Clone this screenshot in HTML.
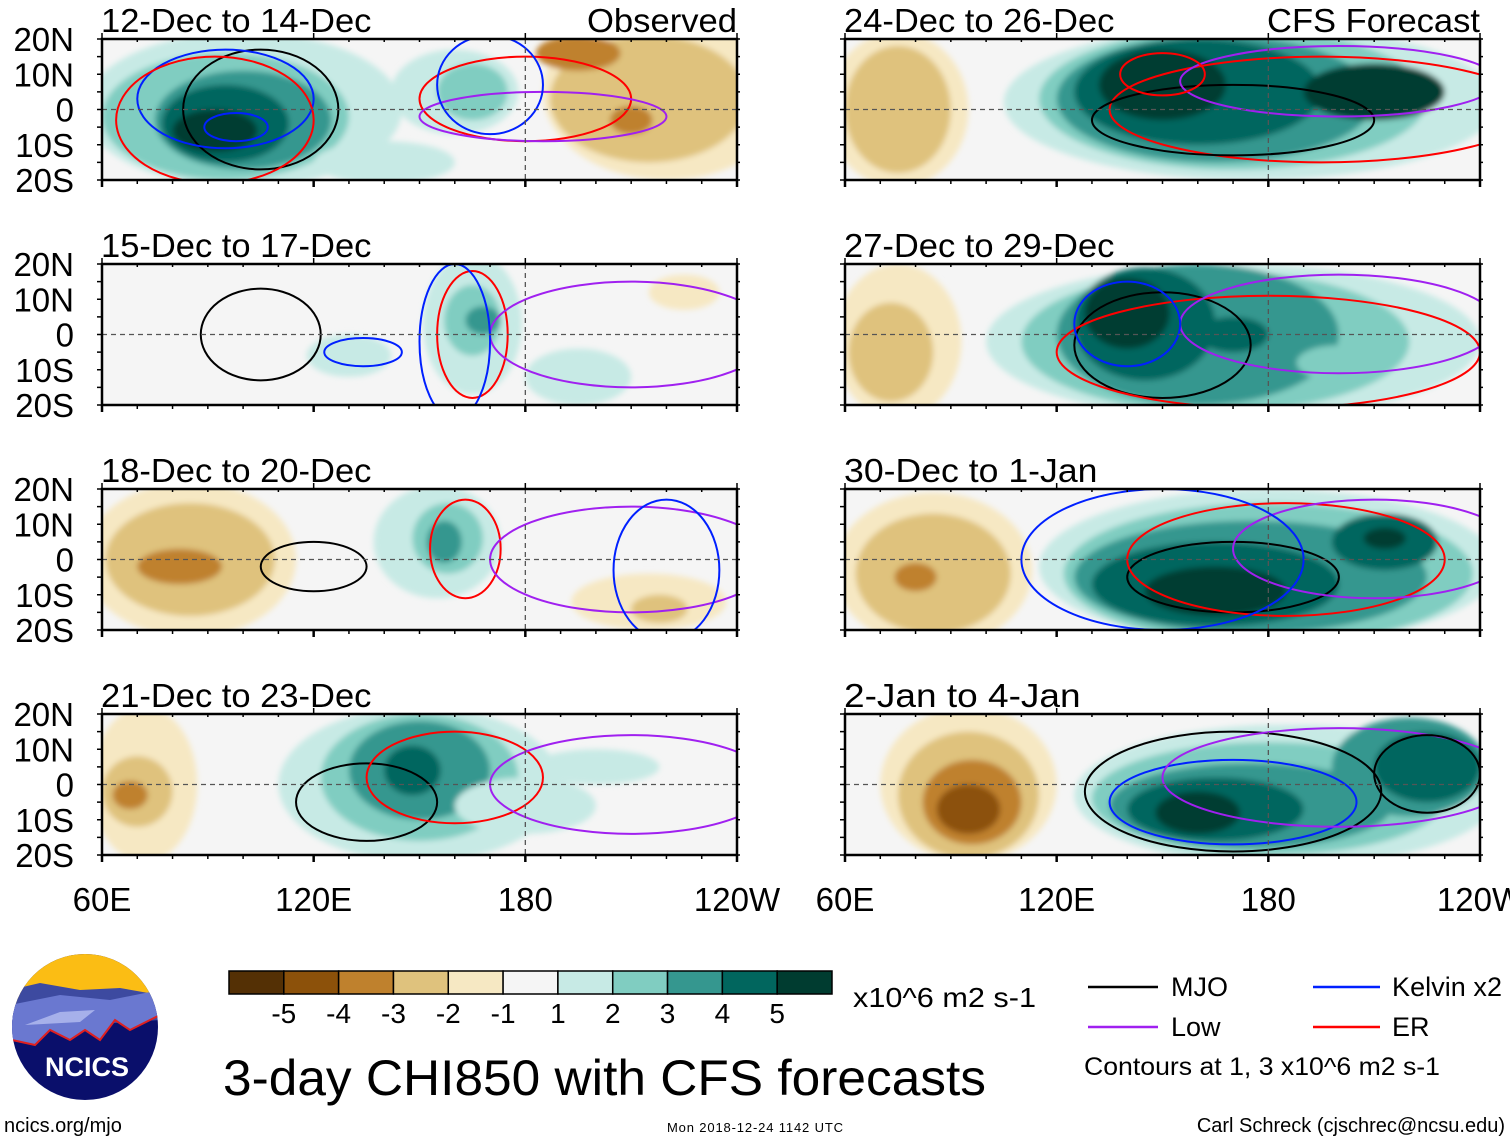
<!DOCTYPE html>
<html><head><meta charset="utf-8">
<style>
body{margin:0;background:#fff;width:1510px;height:1142px;overflow:hidden;font-family:"Liberation Sans",sans-serif;}
svg text{font-family:"Liberation Sans",sans-serif;}
</style></head>
<body>
<svg id="fig" width="1510" height="1142" viewBox="0 0 1510 1142" xmlns="http://www.w3.org/2000/svg">
<defs><filter id="bl" x="-10%" y="-10%" width="120%" height="120%"><feGaussianBlur stdDeviation="3"/></filter></defs>
<g id="panels"></g>
<g>
<clipPath id="lc"><circle cx="85" cy="1027" r="73"/></clipPath>
<g clip-path="url(#lc)">
<rect x="10" y="950" width="150" height="160" fill="#0a0f6b"/>
<rect x="10" y="950" width="150" height="55" fill="#fbbd14"/>
<path d="M10 990 L40 983 L80 990 L120 988 L160 995 L160 1020 L10 1030Z" fill="#3d4aa0"/>
<path d="M10 1005 L60 995 L110 1000 L160 990 L160 1015 L130 1030 L115 1020 L100 1040 L85 1030 L70 1040 L50 1030 L35 1045 L10 1040Z" fill="#6a78d0"/>
<path d="M25 1025 L60 1012 L95 1010 L80 1022Z" fill="#a6b0ea"/>
<path d="M12 1040 L35 1045 L50 1030 L70 1040 L85 1030 L100 1040 L115 1020 L130 1030 L158 1016" fill="none" stroke="#e02020" stroke-width="2"/>
</g>
<text x="87" y="1076" font-size="27" font-weight="bold" fill="#fff" text-anchor="middle">NCICS</text>
</g>
<text x="4" y="1132" font-size="20">ncics.org/mjo</text>
<g id="cbar"></g>
<text x="853" y="1007" font-size="28" textLength="183" lengthAdjust="spacingAndGlyphs">x10^6 m2 s-1</text>
<text x="223" y="1095" font-size="50" textLength="763" lengthAdjust="spacingAndGlyphs">3-day CHI850 with CFS forecasts</text>
<text x="667" y="1132" font-size="13" textLength="176">Mon 2018-12-24 1142 UTC</text>
<text x="1505" y="1132" font-size="20" text-anchor="end">Carl Schreck (cjschrec@ncsu.edu)</text>
<g>
<line x1="1088" y1="987" x2="1158" y2="987" stroke="#000" stroke-width="2.5"/>
<text x="1171" y="996" font-size="27">MJO</text>
<line x1="1313" y1="987" x2="1380" y2="987" stroke="#0020ff" stroke-width="2.5"/>
<text x="1392" y="996" font-size="27" textLength="110">Kelvin x2</text>
<line x1="1088" y1="1027" x2="1158" y2="1027" stroke="#a020f0" stroke-width="2.5"/>
<text x="1171" y="1036" font-size="27">Low</text>
<line x1="1313" y1="1027" x2="1380" y2="1027" stroke="#ff0000" stroke-width="2.5"/>
<text x="1392" y="1036" font-size="27">ER</text>
<text x="1084" y="1075" font-size="25" textLength="356" lengthAdjust="spacingAndGlyphs">Contours at 1, 3 x10^6 m2 s-1</text>
</g>
</svg>
<script>
const levelColors = {'-5':'#543005','-4':'#8c510a','-3':'#bf812d','-2':'#dfc27d','-1':'#f6e8c3','1':'#c7eae5','2':'#80cdc1','3':'#35978f','4':'#01665e','5':'#003c30'};
const cbarColors = ['#543005','#8c510a','#bf812d','#dfc27d','#f6e8c3','#f5f5f5','#c7eae5','#80cdc1','#35978f','#01665e','#003c30'];
const cbarLabels = ['-5','-4','-3','-2','-1','1','2','3','4','5'];
const latLabels = ['20N','10N','0','10S','20S'];
const lonLabels = ['60E','120E','180','120W'];
const panelTitles = ['12-Dec to 14-Dec','24-Dec to 26-Dec','15-Dec to 17-Dec','27-Dec to 29-Dec','18-Dec to 20-Dec','30-Dec to 1-Jan','21-Dec to 23-Dec','2-Jan to 4-Jan'];
const blobs0 = [[100,0,45,22,1],[95,-2,35,18,2],[100,-3,25,14,3],[95,-4,18,11,4],[92,-6,12,6,5],[160,5,18,12,1],[165,5,10,8,2],[220,5,35,25,-1],[215,3,28,18,-2],[210,-3,6,4,-3],[195,16,12,5,-3],[140,-15,20,6,1]];
const blobs1 = [[75,0,20,22,-1],[75,0,15,18,-2],[175,2,70,22,1],[170,3,55,20,2],[165,3,45,18,3],[160,5,35,15,4],[150,7,18,10,5],[210,5,20,8,5]];
const blobs2 = [[165,3,14,20,1],[165,4,8,10,2],[168,4,5,4,3],[130,-6,12,6,1],[195,-12,15,8,1],[225,12,10,5,-1]];
const blobs3 = [[75,-2,18,22,-1],[73,-5,12,14,-2],[170,-2,70,22,1],[165,-2,55,20,2],[160,0,40,20,3],[145,3,20,16,4],[140,6,12,10,5],[170,0,10,5,4],[200,-8,12,5,2]];
const blobs4 = [[85,0,30,22,-1],[85,0,24,16,-2],[82,-2,12,5,-3],[155,5,18,16,1],[158,6,10,10,2],[157,5,5,6,3],[215,-12,22,8,-1],[218,-14,8,4,-2]];
const blobs5 = [[85,-3,28,22,-1],[85,-4,22,17,-2],[80,-5,6,4,-3],[180,-2,65,22,1],[180,-4,58,20,2],[175,-5,50,16,3],[165,-7,35,12,4],[165,-9,20,7,5],[213,5,15,8,4],[213,6,6,3,5]];
const blobs6 = [[72,0,15,22,-1],[70,-2,10,10,-2],[68,-3,5,4,-3],[150,0,40,22,1],[150,2,28,18,2],[150,4,20,14,3],[148,4,8,7,4],[180,-6,20,8,1],[200,5,18,5,1]];
const blobs7 = [[95,0,25,22,-1],[95,-3,20,18,-2],[96,-5,14,12,-3],[95,-7,9,7,-4],[185,-3,60,20,1],[180,-4,50,16,2],[175,-6,40,12,3],[165,-7,25,9,4],[160,-8,12,6,5],[220,5,22,14,3],[225,5,15,10,4]];
const blobSets = [blobs0,blobs1,blobs2,blobs3,blobs4,blobs5,blobs6,blobs7];
const cont0 = [[105,0,22,17,'#000'],[95,3,25,14,'#0020ff'],[98,-5,9,4,'#0020ff'],[92,-3,28,18,'#ff0000'],[180,3,30,12,'#ff0000'],[185,-2,35,7,'#a020f0'],[170,7,15,14,'#0020ff']];
const cont1 = [[195,0,60,15,'#ff0000'],[170,-3,40,10,'#000'],[200,8,45,10,'#a020f0'],[150,10,12,6,'#ff0000']];
const cont2 = [[105,0,17,13,'#000'],[134,-5,11,4,'#0020ff'],[165,0,10,18,'#ff0000'],[210,0,40,15,'#a020f0'],[160,-2,10,22,'#0020ff']];
const cont3 = [[150,-3,25,15,'#000'],[180,-5,60,16,'#ff0000'],[200,3,45,14,'#a020f0'],[140,3,15,12,'#0020ff']];
const cont4 = [[120,-2,15,7,'#000'],[163,3,10,14,'#ff0000'],[210,0,40,15,'#a020f0'],[220,-3,15,20,'#0020ff']];
const cont5 = [[170,-5,30,10,'#000'],[185,0,45,16,'#ff0000'],[210,3,40,14,'#a020f0'],[150,0,40,20,'#0020ff']];
const cont6 = [[135,-5,20,11,'#000'],[160,2,25,13,'#ff0000'],[210,0,40,14,'#a020f0']];
const cont7 = [[170,-5,35,12,'#0020ff'],[170,-2,42,17,'#000'],[200,2,50,14,'#a020f0'],[225,3,15,11,'#000']];
const contSets = [cont0,cont1,cont2,cont3,cont4,cont5,cont6,cont7];

const NS='http://www.w3.org/2000/svg';
function mk(tag,attrs,parent){const e=document.createElementNS(NS,tag);for(const k in attrs)e.setAttribute(k,attrs[k]);parent.appendChild(e);return e;}
const panelX=[102,845], panelY=[39,264,489,714], PW=635, PH=141;
const root=document.getElementById('panels');
for(let i=0;i<8;i++){
  const col=i%2,row=Math.floor(i/2);
  const x0=panelX[col],y0=panelY[row];
  const xs=lon=>x0+(lon-60)/180*PW;
  const ys=lat=>y0+(20-lat)/40*PH;
  const g=mk('g',{},root);
  
  
  const cid='clip'+i;
  const cp=mk('clipPath',{id:cid},g);mk('rect',{x:x0,y:y0,width:PW,height:PH},cp);
  const bg=mk('rect',{x:x0,y:y0,width:PW,height:PH,fill:'#f5f5f5'},g);
  
  
  const sg=mk('g',{'clip-path':'url(#'+cid+')'},g);
  const fg=mk('g',{filter:'url(#bl)'},sg);
  blobSets[i].forEach(b=>{
    const e=mk('ellipse',{cx:xs(b[0]),cy:ys(b[1]),rx:b[2]/180*PW,ry:b[3]/40*PH,fill:levelColors[String(b[4])]},fg);
    
    
  });
  contSets[i].forEach(c=>{
    const e=mk('ellipse',{cx:xs(c[0]),cy:ys(c[1]),rx:c[2]/180*PW,ry:c[3]/40*PH,fill:'none',stroke:c[4],'stroke-width':2},sg);
    
    
  });
  const eq=mk('line',{x1:x0,y1:ys(0),x2:x0+PW,y2:ys(0),stroke:'#555','stroke-dasharray':'5,4','stroke-width':1.3},g);
  
  
  const dl=mk('line',{x1:xs(180),y1:y0,x2:xs(180),y2:y0+PH,stroke:'#555','stroke-dasharray':'5,4','stroke-width':1.3},g);
  
  
  const fr=mk('rect',{x:x0,y:y0,width:PW,height:PH,fill:'none',stroke:'#000','stroke-width':2.5},g);
  
  
  for(let lon=60;lon<=240;lon+=10){const big=(lon%60===0);
    mk('line',{x1:xs(lon),y1:y0+PH,x2:xs(lon),y2:y0+PH+(big?7:4),stroke:'#000','stroke-width':big?2.5:1.5},g);
    mk('line',{x1:xs(lon),y1:y0,x2:xs(lon),y2:y0+(big?-6:3),stroke:'#000','stroke-width':1.5},g);}
  for(let lat=-20;lat<=20;lat+=5){mk('line',{x1:x0-5,y1:ys(lat),x2:x0,y2:ys(lat),stroke:'#000','stroke-width':1.5},g);
    mk('line',{x1:x0+PW,y1:ys(lat),x2:x0+PW+3,y2:ys(lat),stroke:'#000','stroke-width':1.5},g);}
  const t=mk('text',{x:x0-1,y:y0-7,'font-size':33,textLength:panelTitles[i].length*16.9,lengthAdjust:'spacingAndGlyphs'},g);t.textContent=panelTitles[i];
  
  
  if(i===0||i===1){const s=mk('text',{x:x0+PW,y:y0-7,'font-size':33,'text-anchor':'end',textLength:(i===0?150:213),lengthAdjust:'spacingAndGlyphs'},g);s.textContent=(i===0?'Observed':'CFS Forecast');
    
    }
  if(col===0){latLabels.forEach((l,k)=>{const tt=mk('text',{x:74,y:y0+k*PH/4+12,'font-size':33,'text-anchor':'end'},g);tt.textContent=l;
    
    });}
  if(row===3){lonLabels.forEach((l,k)=>{const tt=mk('text',{x:x0+k*PW/3,y:911,'font-size':33,'text-anchor':'middle'},g);tt.textContent=l;
    
    });}
}
const cb=document.getElementById('cbar');
const bw=(832-229)/11;
cbarColors.forEach((c,k)=>{const r=mk('rect',{x:229+k*bw,y:971,width:bw,height:23,fill:c,stroke:'#000','stroke-width':1.5},cb);
  
  });
cbarLabels.forEach((l,k)=>{const t=mk('text',{x:229+(k+1)*bw,y:1023,'font-size':28,'text-anchor':'middle'},cb);t.textContent=l;
  
  });
</script>
</body></html>
